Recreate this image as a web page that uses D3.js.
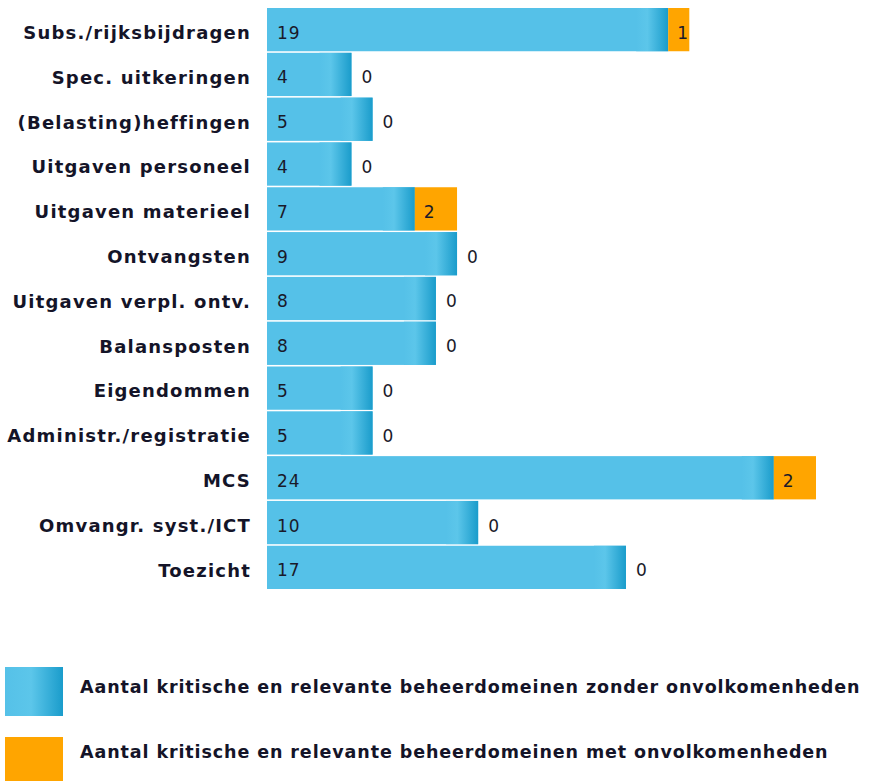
<!DOCTYPE html>
<html>
<head>
<meta charset="utf-8">
<script src="https://cdn.jsdelivr.net/npm/d3@7"></script>
<style>
  body { margin: 0; background: #fff; }
  svg { display: block; font-family: 'DejaVu Sans', Verdana, sans-serif; }
</style>
</head>
<body>
<svg width="872" height="781"></svg>
<script>
const categories = [
  'Subs./rijksbijdragen', 'Spec. uitkeringen', '(Belasting)heffingen',
  'Uitgaven personeel', 'Uitgaven materieel', 'Ontvangsten',
  'Uitgaven verpl. ontv.', 'Balansposten', 'Eigendommen',
  'Administr./registratie', 'MCS', 'Omvangr. syst./ICT', 'Toezicht'
];
const zonder = [19, 4, 5, 4, 7, 9, 8, 8, 5, 5, 24, 10, 17];
const met = [1, 0, 0, 0, 2, 0, 0, 0, 0, 0, 2, 0, 0];
const legendLabels = [
  'Aantal kritische en relevante beheerdomeinen zonder onvolkomenheden',
  'Aantal kritische en relevante beheerdomeinen met onvolkomenheden'
];

const blue = '#55c1e8';
const orange = '#ffa500';

const svg = d3.select('svg');
const xScale = d3.scaleLinear([0, 26], [267, 816]);
const yScale = d3.scaleBand(categories, [8, 545 + 44]).paddingInner(0.035);

const defs = svg.append('defs');
const grad = defs.append('linearGradient').attr('id', 'edge');
grad.append('stop').attr('offset', '0%').attr('stop-color', blue);
grad.append('stop').attr('offset', '35%').attr('stop-color', '#5cc6ea');
grad.append('stop').attr('offset', '100%').attr('stop-color', '#1a9ccb');

const rows = svg.selectAll('g.row')
  .data(categories)
  .join('g')
    .attr('class', 'row')
    .attr('transform', (d) => `translate(0, ${yScale(d)})`);

const bh = yScale.bandwidth();

rows.append('text')
  .text((d) => d)
  .attr('x', 251)
  .attr('y', bh / 2 + 3)
  .attr('dy', '0.35em')
  .attr('text-anchor', 'end')
  .attr('font-weight', 'bold')
  .attr('font-size', 18)
  .attr('letter-spacing', 1.2)
  .attr('fill', '#141428');

rows.append('rect')
  .attr('x', xScale(0))
  .attr('width', (d, i) => xScale(zonder[i]) - xScale(0))
  .attr('height', bh)
  .attr('fill', blue);

rows.append('rect')
  .attr('x', (d, i) => xScale(zonder[i]) - 32)
  .attr('width', 32)
  .attr('height', bh)
  .attr('fill', 'url(#edge)');

rows.filter((d, i) => met[i] > 0).append('rect')
  .attr('x', (d) => xScale(zonder[categories.indexOf(d)]))
  .attr('width', (d) => xScale(met[categories.indexOf(d)]) - xScale(0))
  .attr('height', bh)
  .attr('fill', orange);

rows.append('text')
  .text((d, i) => zonder[i])
  .attr('x', xScale(0) + 10)
  .attr('y', bh / 2 + 3)
  .attr('dy', '0.35em')
  .attr('font-size', 17)
  .attr('letter-spacing', 1)
  .attr('fill', '#1a1a2a');

rows.append('text')
  .text((d, i) => met[i])
  .attr('x', (d, i) => xScale(zonder[i]) + (met[i] > 0 ? 9 : 10))
  .attr('y', bh / 2 + 3)
  .attr('dy', '0.35em')
  .attr('font-size', 17)
  .attr('fill', '#1a1a2a');

const lgGrad = defs.append('linearGradient').attr('id', 'swatch');
lgGrad.append('stop').attr('offset', '0%').attr('stop-color', blue);
lgGrad.append('stop').attr('offset', '45%').attr('stop-color', '#5cc6ea');
lgGrad.append('stop').attr('offset', '100%').attr('stop-color', '#1a9ccb');

const legend = svg.selectAll('g.legend')
  .data(legendLabels)
  .join('g')
    .attr('class', 'legend');

legend.append('rect')
  .attr('x', 5)
  .attr('y', (d, i) => 667 + i * 70)
  .attr('width', 58)
  .attr('height', 49)
  .attr('fill', (d, i) => (i === 0 ? 'url(#swatch)' : orange));

legend.append('text')
  .text((d) => d)
  .attr('x', 80)
  .attr('y', (d, i) => 687 + i * 65)
  .attr('dy', '0.35em')
  .attr('font-weight', 'bold')
  .attr('font-size', 17.5)
  .attr('letter-spacing', 0.9)
  .attr('fill', '#141428');
</script>
</body>
</html>
